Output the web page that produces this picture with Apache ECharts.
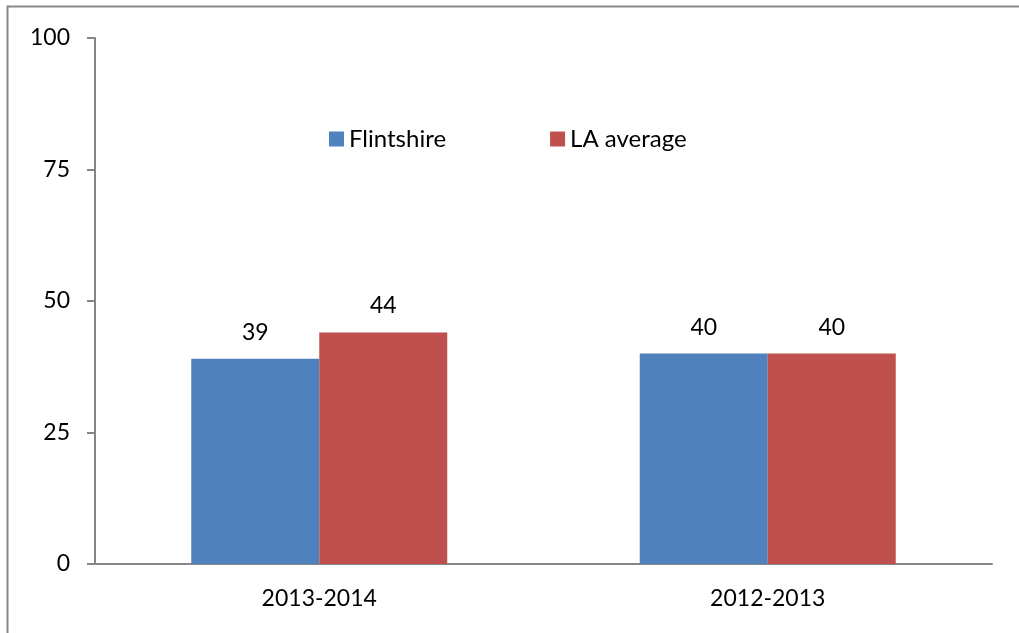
<!DOCTYPE html>
<html>
<head>
<meta charset="utf-8">
<script src="https://cdn.jsdelivr.net/npm/echarts@6/dist/echarts.min.js"></script>
<style>
html,body{margin:0;padding:0;background:#fff}
#main{width:1019px;height:633px}
</style>
</head>
<body>
<div id="main"></div>
<script>
var years = ['2013-2014', '2012-2013']
var flintshire = [39, 40]
var laAverage = [44, 40]
var yTicks = [0, 25, 50, 75, 100]

var font = 'Lato, "Open Sans", sans-serif'
var chart = echarts.init(document.getElementById('main'))
chart.setOption({
    animation: false,
    graphic: [{
        type: 'rect',
        shape: {x: 7.5, y: 6.5, width: 1030, height: 660},
        style: {fill: 'none', stroke: '#888', lineWidth: 2}
    }],
    legend: {
        left: 324,
        top: 122,
        itemWidth: 15,
        itemHeight: 15,
        itemGap: 104,
        icon: 'rect',
        textStyle: {fontFamily: font, fontSize: 24, color: '#000'},
        data: ['Flintshire', 'LA average']
    },
    grid: {left: 95, right: 27, top: 38, bottom: 69},
    xAxis: {
        type: 'category',
        data: years,
        axisLine: {lineStyle: {color: '#868686', width: 2}},
        axisTick: {length: 8, lineStyle: {color: '#868686', width: 2}},
        axisLabel: {fontFamily: font, fontSize: 23, color: '#000', margin: 23}
    },
    yAxis: {
        type: 'value',
        min: yTicks[0],
        max: yTicks[yTicks.length - 1],
        interval: 25,
        splitLine: {show: false},
        axisLine: {show: true, lineStyle: {color: '#868686', width: 2}},
        axisTick: {show: true, length: 8, lineStyle: {color: '#868686', width: 2}},
        axisLabel: {fontFamily: font, fontSize: 23, color: '#000', margin: 25}
    },
    series: [{
        name: 'Flintshire',
        type: 'bar',
        data: flintshire,
        barWidth: 128,
        barGap: 0,
        itemStyle: {color: '#4F81BD'},
        label: {show: true, position: 'top', distance: 15, fontFamily: font, fontSize: 23, color: '#000'}
    }, {
        name: 'LA average',
        type: 'bar',
        data: laAverage,
        barWidth: 128,
        barGap: 0,
        itemStyle: {color: '#C0504D'},
        label: {show: true, position: 'top', distance: 15, fontFamily: font, fontSize: 23, color: '#000'}
    }]
})
</script>
</body>
</html>
